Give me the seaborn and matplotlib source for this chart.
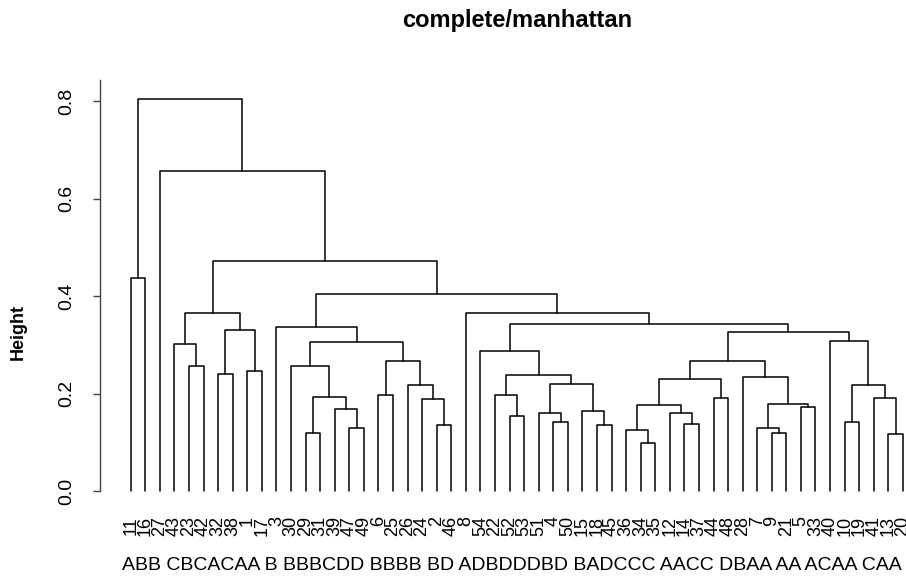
import numpy as np
import pandas as pd
import matplotlib
matplotlib.use("Agg")
import matplotlib.pyplot as plt
import seaborn as sns

# ---- data ----
leaf_order = [11, 16, 27, 43, 23, 42, 32, 38, 1, 17, 3, 30, 29, 31, 39, 47, 49, 6,
              25, 26, 24, 2, 46, 8, 54, 22, 52, 53, 51, 4, 50, 15, 18, 45, 36, 34,
              35, 12, 14, 37, 44, 48, 28, 7, 9, 21, 5, 33, 40, 10, 19, 41, 13, 20]
group_labels = "ABB CBCACAA B BBBCDD BBBB BD ADBDDDBD BADCCC AACC DBAA AA ACAA CAA"

# R-style merge table: negative = observation, positive = earlier merge step (1-based)
merge_left = [-11, -23, -43, -32, -1, 4, 3, -29, -47, -39, 8, -30, -6, -2, -24, -26,
              13, 12, -3, -52, -22, -4, -51, -18, -15, 23, 21, -54, -34, -36, -14,
              -12, 30, -44, 33, -9, -7, -5, 37, -28, 35, -13, -41, -10, 44, -40, 41,
              28, -8, 19, 7, -27, 1]
merge_right = [-16, -42, 2, -38, -17, 5, 6, -31, -49, 9, 10, 11, -25, -46, 14, 15,
               16, 17, 18, -53, 20, -50, 22, -45, 24, 25, 26, 27, -35, 29, -37,
               31, 32, -48, 34, -21, 36, -33, 38, 39, 40, -20, 42, -19, 43, 45, 46,
               47, 48, 49, 50, 51, 52]
merge_height = [0.436, 0.256, 0.302, 0.241, 0.246, 0.330, 0.366, 0.118, 0.130, 0.168,
                0.193, 0.256, 0.196, 0.135, 0.189, 0.217, 0.266, 0.305, 0.336, 0.154,
                0.196, 0.1415, 0.161, 0.135, 0.165, 0.220, 0.237, 0.287, 0.0985, 0.125,
                0.137, 0.159, 0.176, 0.191, 0.230, 0.120, 0.129, 0.172, 0.179, 0.234,
                0.267, 0.116, 0.191, 0.142, 0.218, 0.308, 0.327, 0.343, 0.366, 0.4035,
                0.472, 0.656, 0.805]
y_ticks = [0.0, 0.2, 0.4, 0.6, 0.8]
y_tick_labels = ["0.0", "0.2", "0.4", "0.6", "0.8"]

# ---- build segments of the dendrogram ----
leaf_pos = {lab: i for i, lab in enumerate(leaf_order)}
node_x, node_y = {}, {}


def child_xy(c):
    if c < 0:
        return leaf_pos[-c], 0.0
    return node_x[c], node_y[c]


rows = []
for k, (a, b, h) in enumerate(zip(merge_left, merge_right, merge_height), start=1):
    x1, y1 = child_xy(a)
    x2, y2 = child_xy(b)
    for order, (xx, yy) in enumerate([(x1, y1), (x1, h), (x2, h), (x2, y2)]):
        rows.append({"seg": k, "order": order, "x": xx, "y": yy})
    node_x[k] = (x1 + x2) / 2.0
    node_y[k] = h
segs = pd.DataFrame(rows)

# ---- plot ----
sns.set_style("ticks")
plt.rcParams["font.family"] = ["Liberation Sans", "DejaVu Sans"]
plt.rcParams["text.color"] = "black"
plt.rcParams["xtick.color"] = "black"
plt.rcParams["ytick.color"] = "black"

W, H = 906, 578
fig = plt.figure(figsize=(W / 100, H / 100), dpi=100)

spacing = 14.57
x0_px = 130.7
ax_left_px, ax_right_px = 100, 906
y0_px = 491.0
unit_px = 487.5
ylim = (-0.032, 0.845)
ax_top_px = y0_px - ylim[1] * unit_px
ax_bot_px = y0_px - ylim[0] * unit_px
ax = fig.add_axes([ax_left_px / W, 1 - ax_bot_px / H,
                   (ax_right_px - ax_left_px) / W, (ax_bot_px - ax_top_px) / H])

sns.lineplot(data=segs, x="x", y="y", units="seg", estimator=None, sort=False,
             color="black", linewidth=1.1, ax=ax)

ax.set_xlim((ax_left_px - x0_px) / spacing, (ax_right_px - x0_px) / spacing)
ax.set_ylim(*ylim)

for s in ["top", "right", "bottom"]:
    ax.spines[s].set_visible(False)
ax.spines["left"].set_bounds(0, 0.843)
ax.spines["left"].set_color("#444444")
ax.spines["left"].set_linewidth(1.0)

ax.set_yticks(y_ticks)
ax.set_yticklabels(y_tick_labels, rotation=90, va="center", fontsize=14, color="black")
ax.tick_params(axis="y", length=5, width=1.0, color="#444444", pad=13)

ax.set_xticks(range(len(leaf_order)))
ax.set_xticklabels([str(v) for v in leaf_order], rotation=90, fontsize=13, color="black")
ax.tick_params(axis="x", length=0, pad=7)

ax.set_xlabel("")
ax.set_ylabel("")

fig.text(511.5 / W, 1 - 565 / H, group_labels, ha="center", va="center", fontsize=14,
         color="black")
fig.text(517 / W, 1 - 20 / H, "complete/manhattan", ha="center", va="center",
         fontsize=17, fontweight="bold", color="black")
fig.text(18 / W, 1 - 332 / H, "Height", ha="center", va="center", rotation=90,
         fontsize=13, fontweight="bold", color="black")

fig.savefig("out.png", dpi=100)
